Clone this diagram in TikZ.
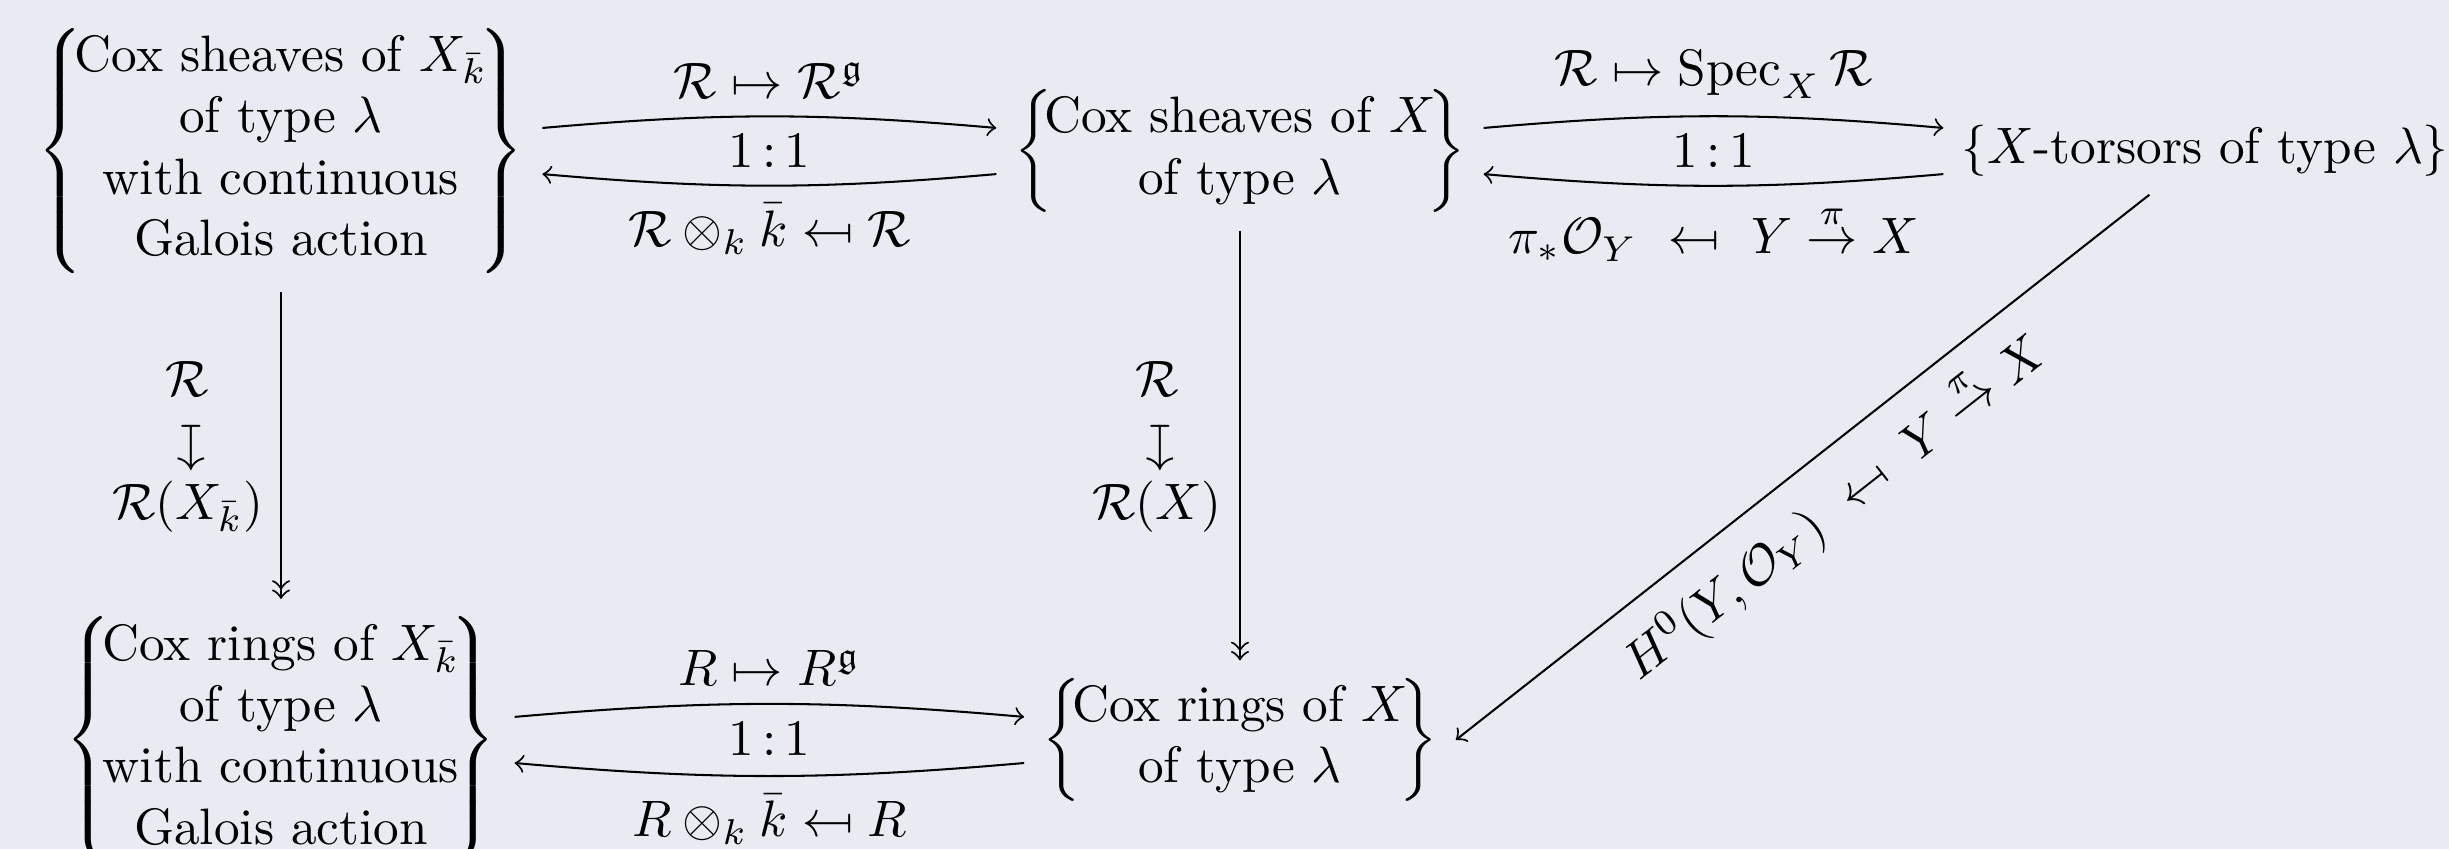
\documentclass[tikz,border=0pt]{standalone}
\usepackage{amsmath, amssymb}
\usetikzlibrary{arrows, calc, positioning}
\definecolor{paneBG}{RGB}{232, 236, 242}
\newcommand{\mapsback}{\mathrel{\reflectbox{$\mapsto$}}}
\newcommand{\mapsdn}{\rotatebox[origin=c]{-90}{$\mapsto$}}

\begin{document}
\begin{tikzpicture}[
    obj/.style={inner sep=3.33pt},
    map/.style={->},
    onto/.style={->>},
  ]
    \fill[paneBG] (0,0) rectangle (16.80,-5.824);
    \useasboundingbox (0,0) rectangle (16.80,-5.824);

    \node[obj] (shvk) at (1.928,-1.036) {$\left\{\!\begin{array}{@{}c@{}}\text{Cox sheaves of } X_{\bar{k}}\\ \text{of type } \lambda\\ \text{with continuous}\\ \text{Galois action}\end{array}\!\right\}$};
    \node[obj] (shvX) at (8.506,-1.036) {$\left\{\!\begin{array}{@{}c@{}}\text{Cox sheaves of } X\\ \text{of type } \lambda\end{array}\!\right\}$};
    \node[obj] (tors) at (15.126,-1.036) {$\left\{X\text{-torsors of type } \lambda\right\}$};
    \node[obj] (ringk) at (1.928,-5.076) {$\left\{\!\begin{array}{@{}c@{}}\text{Cox rings of } X_{\bar{k}}\\ \text{of type } \lambda\\ \text{with continuous}\\ \text{Galois action}\end{array}\!\right\}$};
    \node[obj] (ringX) at (8.506,-5.076) {$\left\{\!\begin{array}{@{}c@{}}\text{Cox rings of } X\\ \text{of type } \lambda\end{array}\!\right\}$};

    \draw[map] ([yshift=4.5pt]shvk.east) to[bend left=5] node[above] {$\mathcal{R}\mapsto\mathcal{R}^{\mathfrak{g}}$} node[below] {$1\,{:}\,1$} ([yshift=4.5pt]shvX.west);
    \draw[map] ([yshift=-4.5pt]shvX.west) to[bend left=5] node[below] {$\mathcal{R}\otimes_k\bar{k}\mapsback\mathcal{R}$} ([yshift=-4.5pt]shvk.east);
    \draw[map] ([yshift=4.5pt]shvX.east) to[bend left=5] node[above] {$\mathcal{R}\mapsto\operatorname{Spec}_X\mathcal{R}$} node[below] {$1\,{:}\,1$} ([yshift=4.5pt]tors.west);
    \draw[map] ([yshift=-4.5pt]tors.west) to[bend left=5] node[below] {$\pi_*\mathcal{O}_Y\ \mapsback\ Y\stackrel{\pi}{\to}X$} ([yshift=-4.5pt]shvX.east);

    \draw[onto] (shvk) -- node[left] {$\begin{array}{@{}c@{}}\mathcal{R}\\ \mapsdn\\ \mathcal{R}(X_{\bar{k}})\end{array}$} (ringk);
    \draw[onto] (shvX) -- node[left] {$\begin{array}{@{}c@{}}\mathcal{R}\\ \mapsdn\\ \mathcal{R}(X)\end{array}$} (ringX);

    \draw[map] ([yshift=4.5pt]ringk.east) to[bend left=5] node[above] {$R\mapsto R^{\mathfrak{g}}$} node[below] {$1\,{:}\,1$} ([yshift=4.5pt]ringX.west);
    \draw[map] ([yshift=-4.5pt]ringX.west) to[bend left=5] node[below] {$R\otimes_k\bar{k}\mapsback R$} ([yshift=-4.5pt]ringk.east);

    \draw[map] (tors) -- node[below, sloped] {$H^0(Y,\mathcal{O}_Y)\ \mapsback\ Y\stackrel{\pi}{\to}X$} (ringX.east);
  \end{tikzpicture}
\end{document}
